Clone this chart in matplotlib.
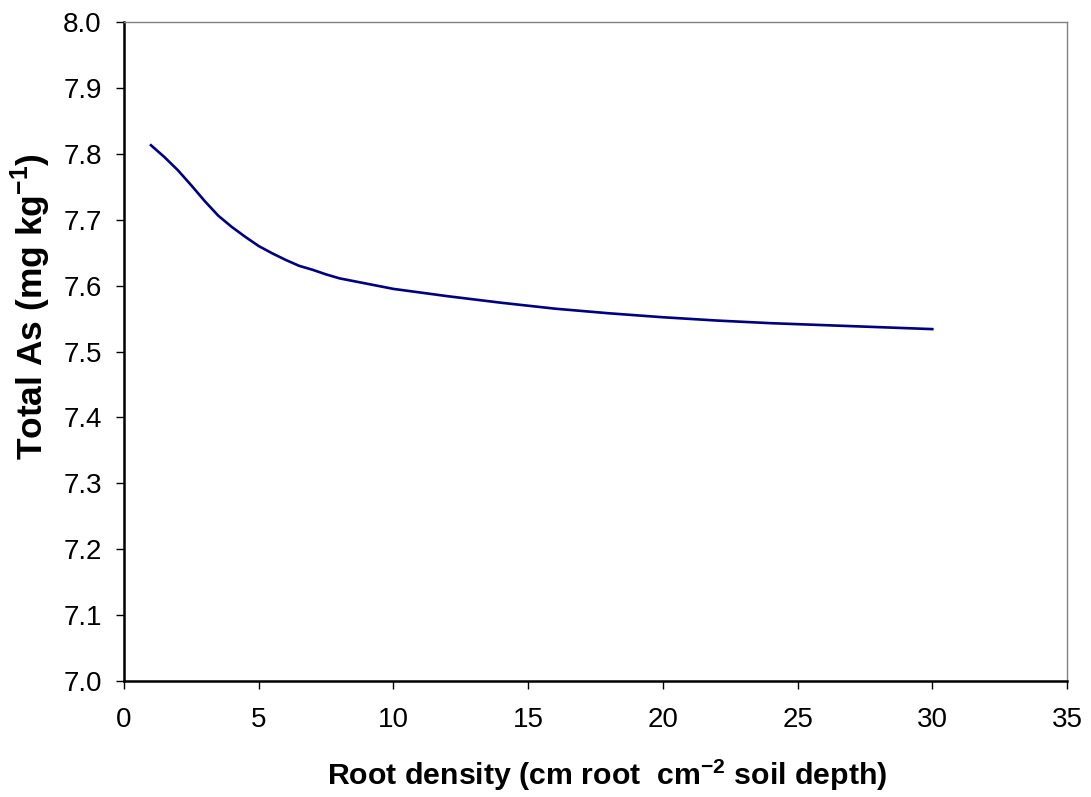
"""Total As versus root density line chart."""

import matplotlib
matplotlib.use('Agg')
import matplotlib.pyplot as plt

# data
root_density = [1, 1.5, 2, 2.5, 3, 3.5, 4, 4.5, 5, 5.5, 6, 6.5, 7, 7.5, 8, 9, 10,
                12, 14, 16, 18, 20, 22, 24, 26, 28, 30]
total_as = [7.813, 7.795, 7.775, 7.752, 7.728, 7.706, 7.689, 7.674, 7.660, 7.649,
            7.639, 7.630, 7.624, 7.617, 7.611, 7.603, 7.595,
            7.584, 7.574, 7.565, 7.558, 7.552, 7.547, 7.543, 7.540, 7.537, 7.534]

x_ticks = [0, 5, 10, 15, 20, 25, 30, 35]
y_ticks = [7.0, 7.1, 7.2, 7.3, 7.4, 7.5, 7.6, 7.7, 7.8, 7.9, 8.0]

plt.rcParams['font.family'] = ['Liberation Sans', 'DejaVu Sans']
plt.rcParams['mathtext.fontset'] = 'custom'
plt.rcParams['mathtext.rm'] = 'Liberation Sans'
plt.rcParams['mathtext.bf'] = 'Liberation Sans:bold'

fig = plt.figure(figsize=(10.91, 7.97), dpi=100)
ax = fig.add_axes([0.1137, 0.1455, 0.8643, 0.8269])

ax.plot(root_density, total_as, color='#000080', linewidth=1.9,
        solid_joinstyle='round')

ax.set_xlim(0, 35)
ax.set_ylim(7.0, 8.0)
ax.set_xticks(x_ticks)
ax.set_yticks(y_ticks)
ax.set_xticklabels([str(t) for t in x_ticks], fontsize=20)
ax.set_yticklabels([f'{t:.1f}' for t in y_ticks], fontsize=20)
ax.tick_params(direction='out', length=6, width=1, pad=10)
ax.tick_params(axis='x', pad=13)

for side in ['left', 'bottom']:
    ax.spines[side].set_linewidth(1.8)
    ax.spines[side].set_color('black')
for side in ['top', 'right']:
    ax.spines[side].set_linewidth(1)
    ax.spines[side].set_color('#808080')

ax.set_xlabel(r'Root density (cm root  cm$^{\mathbf{-2}}$ soil depth)',
              fontsize=21.8, fontweight='bold')
ax.xaxis.label.set_va('baseline')
ax.xaxis.set_label_coords(0.512, -0.1578)

ax.set_ylabel(r'Total As (mg kg$^{\mathbf{-1}}$)',
              fontsize=25.5, fontweight='bold')
ax.yaxis.label.set_rotation_mode('anchor')
ax.yaxis.label.set_va('baseline')
ax.yaxis.set_label_coords(-0.0859, 0.5675)

plt.savefig('out.png', dpi=100)
plt.close()
